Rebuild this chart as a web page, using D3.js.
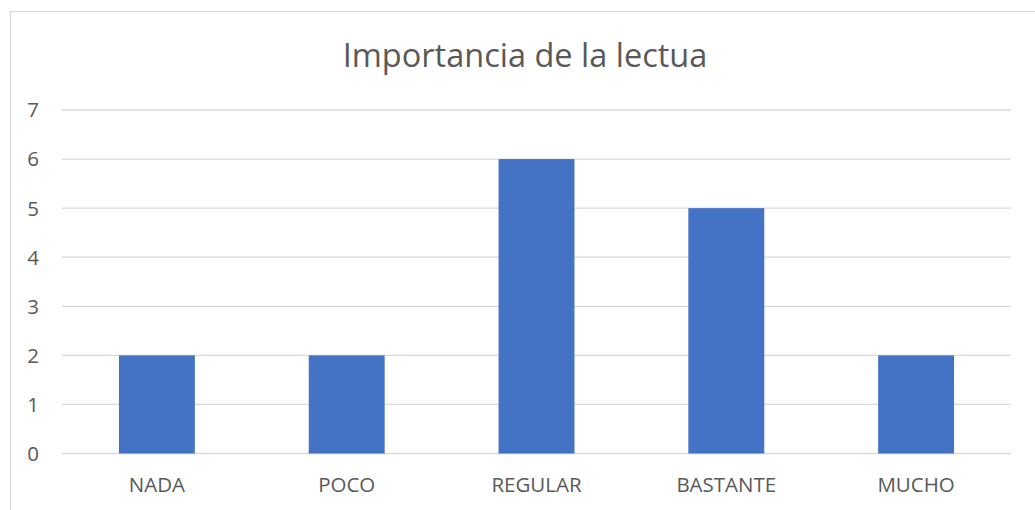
<!DOCTYPE html>
<html>
<head>
<meta charset="utf-8">
<script src="https://cdn.jsdelivr.net/npm/d3@7"></script>
<style>
  body { margin: 0; background: #fff; }
  text { font-family: "Open Sans", "Liberation Sans", sans-serif; fill: #595959; }
</style>
</head>
<body>
<svg></svg>
<script>
const categories = ['NADA', 'POCO', 'REGULAR', 'BASTANTE', 'MUCHO'];
const values = [2, 2, 6, 5, 2];
const yTicks = [0, 1, 2, 3, 4, 5, 6, 7];
const title = 'Importancia de la lectua';

const width = 1035;
const height = 510;
const plot = { left: 62, right: 1011, top: 110, bottom: 453.5 };

const svg = d3.select('svg')
  .attr('width', width)
  .attr('height', height);

// chart frame (right/bottom run off the picture)
svg.append('rect')
  .attr('x', 10.5)
  .attr('y', 11.5)
  .attr('width', 1100)
  .attr('height', 600)
  .attr('fill', '#fff')
  .attr('stroke', '#d9d9d9')
  .attr('stroke-width', 1);

const x = d3.scaleBand()
  .domain(categories)
  .range([plot.left, plot.right]);

const y = d3.scaleLinear()
  .domain([0, 7])
  .range([plot.bottom, plot.top]);

svg.append('text')
  .attr('x', 525)
  .attr('y', 67)
  .attr('text-anchor', 'middle')
  .style('font-size', '32.5px')
  .text(title);

// gridlines
svg.append('g')
  .selectAll('line')
  .data(yTicks)
  .enter()
  .append('line')
  .attr('x1', plot.left)
  .attr('x2', plot.right)
  .attr('y1', d => y(d))
  .attr('y2', d => y(d))
  .attr('stroke', '#d9d9d9')
  .attr('stroke-width', 1.3);

// y labels
svg.append('g')
  .selectAll('text')
  .data(yTicks)
  .enter()
  .append('text')
  .attr('x', 39)
  .attr('y', d => y(d))
  .attr('dy', '0.36em')
  .attr('text-anchor', 'end')
  .style('font-size', '20.5px')
  .text(d => d);

const barW = x.bandwidth() * 0.4;

svg.append('g')
  .selectAll('rect')
  .data(values)
  .enter()
  .append('rect')
  .attr('x', (d, i) => x(categories[i]) + (x.bandwidth() - barW) / 2)
  .attr('y', d => y(d))
  .attr('width', barW)
  .attr('height', d => y(0) - y(d))
  .attr('fill', '#4472c4');

// category labels
svg.append('g')
  .selectAll('text')
  .data(categories)
  .enter()
  .append('text')
  .attr('x', d => x(d) + x.bandwidth() / 2)
  .attr('y', 492)
  .attr('text-anchor', 'middle')
  .style('font-size', '20.5px')
  .text(d => d);
</script>
</body>
</html>
